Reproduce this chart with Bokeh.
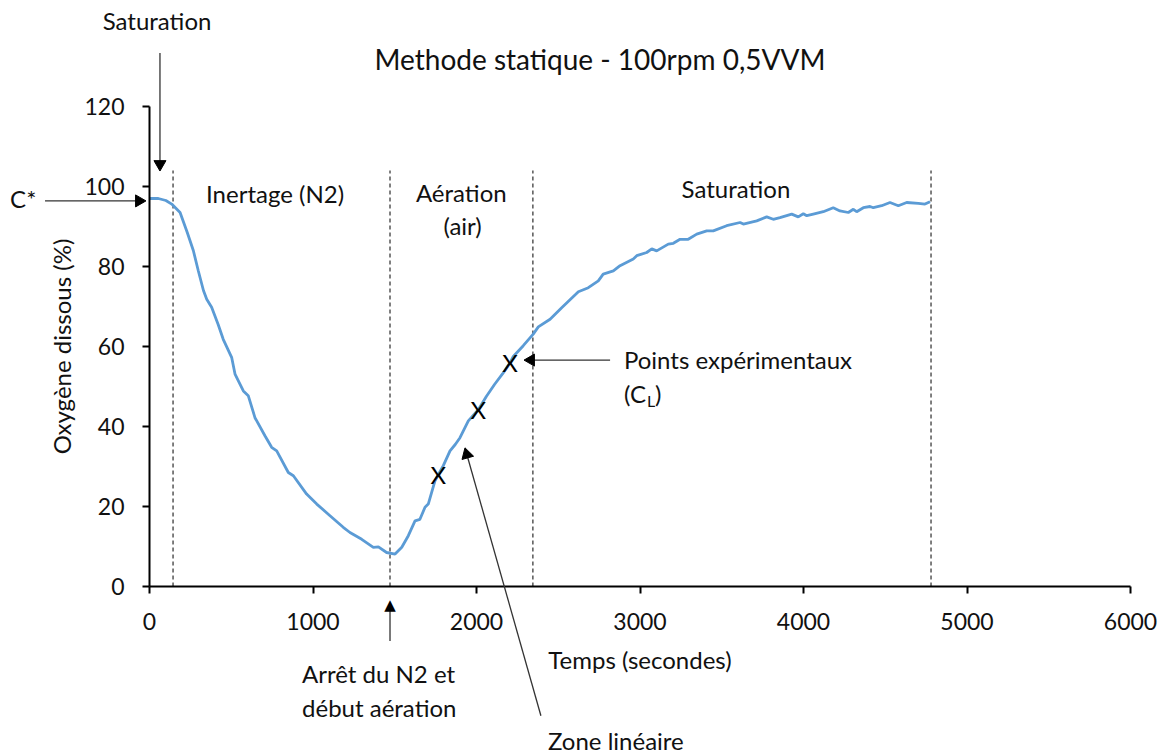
import math
from bokeh.plotting import figure
from bokeh.models import Label, Range1d
from bokeh.core.properties import value
from bokeh.embed import file_html
from bokeh.resources import INLINE

# ---- data ----
time_s = [0, 54, 100, 136, 187, 231, 268, 298, 330, 350, 380, 420, 451, 503, 523,
          574, 604, 645, 706, 747, 778, 849, 880, 961, 1023, 1104, 1185, 1226, 1298,
          1369, 1400, 1450, 1502, 1543, 1583, 1624, 1654, 1685, 1705, 1746, 1767, 1797,
          1838, 1870, 1899, 1950, 2011, 2060, 2110, 2160, 2205, 2225, 2286, 2347, 2378,
          2450, 2521, 2623, 2684, 2745, 2775, 2837, 2878, 2959, 2980, 3041, 3072, 3102,
          3173, 3204, 3245, 3295, 3347, 3408, 3448, 3530, 3612, 3632, 3714, 3775, 3815,
          3856, 3928, 3968, 3999, 4020, 4060, 4121, 4182, 4223, 4274, 4305, 4325, 4366,
          4407, 4427, 4478, 4529, 4580, 4631, 4702, 4743, 4774]
oxygen = [97, 97, 96.5, 95.6, 93.5, 88.5, 84, 79, 74, 71.8, 69.8, 65.5, 61.8, 57.2, 53.1,
          48.9, 47.7, 42.2, 37.7, 34.8, 33.9, 28.5, 27.7, 23.1, 20.6, 17.7, 14.8, 13.5, 11.8,
          9.8, 9.9, 8.5, 8.1, 9.8, 12.7, 16.4, 16.8, 19.8, 20.6, 26.4, 28.0, 30.2,
          33.9, 35.5, 37.2, 41.4, 44.2, 47.5, 50.5, 53.2, 55.9, 57.5, 60.2, 63.1, 64.9,
          66.8, 69.7, 73.7, 74.7, 76.4, 78.1, 78.9, 80.2, 81.9, 82.7, 83.5, 84.4, 83.9,
          85.6, 85.8, 86.8, 86.8, 88.1, 88.9, 88.9, 90.2, 91.0, 90.6, 91.4, 92.4, 91.8,
          92.2, 93.1, 92.4, 93.2, 92.7, 93.1, 93.7, 94.7, 93.9, 93.5, 94.3, 93.7, 94.7,
          95.0, 94.7, 95.2, 96.0, 95.2, 96.0, 95.8, 95.6, 96.2]

marker_t = [1767, 2011, 2205]
marker_v = [28.0, 44.2, 55.9]

phase_t = [144, 1471, 2345, 4780]

x_ticks = [0, 1000, 2000, 3000, 4000, 5000, 6000]
y_ticks = [0, 20, 40, 60, 80, 100, 120]

FONT = "Lato"
TXT = "#111111"
FS = "24px"

p = figure(width=1164, height=756, x_range=Range1d(0, 6000), y_range=Range1d(0, 120),
           output_backend="svg", toolbar_location=None, title=None,
           min_border_left=149, min_border_right=34, min_border_top=106, min_border_bottom=170)
p.outline_line_color = None
p.grid.visible = False
p.background_fill_color = "white"
p.border_fill_color = "white"

for ax in (p.xaxis[0], p.yaxis[0]):
    ax.axis_line_color = "black"
    ax.axis_line_width = 2
    ax.major_tick_line_color = "black"
    ax.major_tick_line_width = 2
    ax.major_tick_in = 0
    ax.major_tick_out = 7
    ax.minor_tick_line_color = None
    ax.major_label_text_font = FONT
    ax.major_label_text_font_size = "23px"
    ax.major_label_text_color = TXT
    ax.axis_label_text_font = FONT
    ax.axis_label_text_font_size = FS
    ax.axis_label_text_font_style = "normal"
    ax.axis_label_text_color = TXT

p.xaxis.ticker = x_ticks
p.yaxis.ticker = y_ticks
p.xaxis.major_label_standoff = 19
p.yaxis.major_label_standoff = 18
p.xaxis.axis_label = "Temps (secondes)"
p.yaxis.axis_label = "Oxygène dissous (%)"
p.xaxis.axis_label_standoff = 12
p.yaxis.axis_label_standoff = 5

# phase separators
p.segment(x0=phase_t, y0=0, x1=phase_t, y1=104, line_color="black", line_width=1,
          line_dash="4 3")

# curve
p.line(time_s, oxygen, line_color="#5B9BD5", line_width=2.8)

# experimental points (drawn as letter X)
p.text(x=marker_t, y=marker_v, text=["X"] * len(marker_t), text_font=value(FONT),
       text_font_size="24px", text_color="black", text_align="center",
       text_baseline="middle")


def label(x, y, text, align="center", size=FS):
    p.add_layout(Label(x=x, y=y, text=text, text_font=FONT, text_font_size=size,
                       text_color=TXT, text_align=align, text_baseline="middle"))


def outside_text(x, y, text, align="center", size=FS):
    p.text(x=[x], y=[y], text=[text], text_font=value(FONT), text_font_size=size,
           text_color=TXT, text_align=align, text_baseline="middle", level="overlay")


def arrow(x0, y0, xh, yh, angle):
    p.segment(x0=[x0], y0=[y0], x1=[xh], y1=[yh], line_color="#333333", line_width=1.3,
              level="overlay")
    p.scatter(x=[xh], y=[yh], marker="triangle", size=12, angle=angle,
              fill_color="black", line_color="black", level="overlay")


# title
outside_text(2755, 131.9, "Methode statique - 100rpm 0,5VVM", size="28px")

# phase labels
label(768, 98.2, "Inertage (N2)")
label(1907, 98.6, "Aération")
label(1915, 90.2, "(air)")
label(3587, 99.4, "Saturation")

# top-left saturation
outside_text(46, 141.4, "Saturation")
arrow(64, 133.4, 64, 105.6, math.pi)

# C*
outside_text(-853, 96.9, "C*", align="left")
arrow(-639, 96.4, -64, 96.4, -math.pi / 2)

# points expérimentaux
label(2902, 56.7, "Points expérimentaux", align="left")
p.add_layout(Label(x=2902, y=48.2, text="(C", text_font=FONT, text_font_size=FS,
                   text_color=TXT, text_align="left", text_baseline="middle"))
p.add_layout(Label(x=2902, y=46.6, x_offset=23, text="L", text_font=FONT,
                   text_font_size="16px", text_color=TXT, text_align="left",
                   text_baseline="middle"))
p.add_layout(Label(x=2902, y=48.2, x_offset=31, text=")", text_font=FONT,
                   text_font_size=FS, text_color=TXT, text_align="left",
                   text_baseline="middle"))
arrow(2817, 56.6, 2333, 56.6, math.pi / 2)

# arrêt du N2 (head lies far below the frame: drawn as a text glyph, which is not culled)
outside_text(933, -21.8, "Arrêt du N2 et", align="left")
outside_text(933, -30.3, "début aération", align="left")
p.segment(x0=[1471], y0=[-13.6], x1=[1471], y1=[-5.5], line_color="#333333",
          line_width=1.3, level="overlay")
p.text(x=[1471], y=[-4.6], text=["▲"], text_font=value("DejaVu Sans"),
       text_font_size="15px", text_color="black", text_align="center",
       text_baseline="middle", level="overlay")

# zone linéaire
outside_text(2437, -38.6, "Zone linéaire", align="left")
arrow(2394, -32.3, 1941, 33.0, 0.273)

open("out.html", "w").write(file_html(p, INLINE))
